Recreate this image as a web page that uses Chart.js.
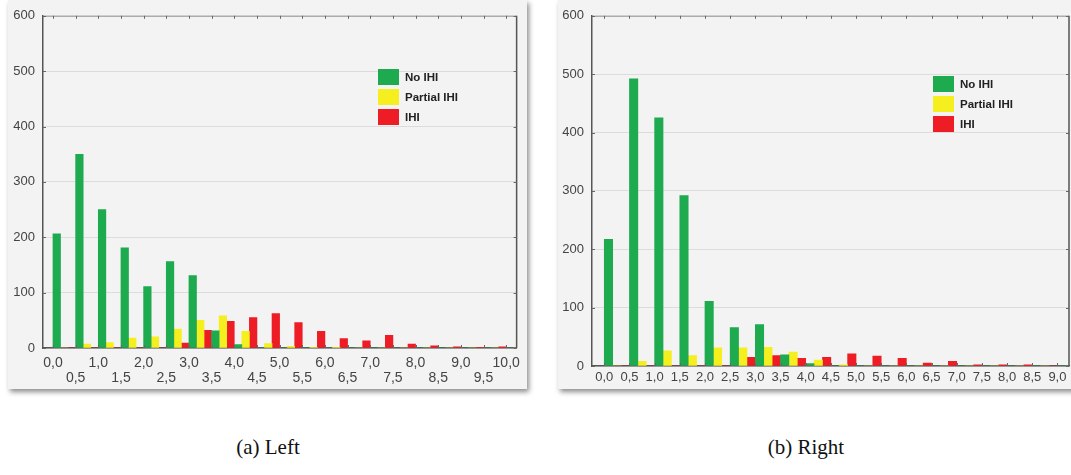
<!DOCTYPE html>
<html>
<head>
<meta charset="utf-8">
<script src="https://cdn.jsdelivr.net/npm/chart.js@4"></script>
<style>
body { margin: 0; width: 1071px; height: 475px; background: #fff; position: relative; overflow: hidden; font-family: "Liberation Sans", Arial, sans-serif; }
.panel { position: absolute; top: 0; height: 389px; background: #f3f3f3; box-shadow: 2px 3px 5px rgba(0, 0, 0, 0.45); }
#leftPanel { left: 8px; width: 519px; }
#rightPanel { left: 558px; width: 520px; }
.legend { position: absolute; font-weight: bold; font-size: 11.5px; color: #222; }
.legend .row { height: 20px; display: flex; align-items: center; }
.legend .box { width: 21px; height: 16px; margin-right: 6px; }
.caption { position: absolute; top: 435px; width: 200px; text-align: center; font-family: "Liberation Serif", serif; font-size: 21px; color: #111; }
</style>
</head>
<body>
<div class="panel" id="leftPanel"><canvas id="leftChart"></canvas><div class="legend" id="leftLegend" style="left:370px; top:67px"></div></div>
<div class="panel" id="rightPanel"><canvas id="rightChart"></canvas><div class="legend" id="rightLegend" style="left:375px; top:74px"></div></div>
<div class="caption" style="left:168px">(a) Left</div>
<div class="caption" style="left:706px">(b) Right</div>
<script>
const seriesNames = ['No IHI', 'Partial IHI', 'IHI'];
const seriesColors = ['#1eaa4f', '#f6ef1f', '#ee1c24'];

// left: bins 0,0 .. 10,0
const binsLeft = [0, 0.5, 1, 1.5, 2, 2.5, 3, 3.5, 4, 4.5, 5, 5.5, 6, 6.5, 7, 7.5, 8, 8.5, 9, 9.5, 10];
const noIhiLeft = [206, 350, 250, 181, 111, 156, 131, 31, 6, 0, 0, 0, 0, 0, 0, 0, 0, 0, 0, 0, 0];
const partialLeft = [0, 7, 10, 18, 20, 34, 50, 58, 30, 8, 3, 1, 1, 0, 0, 0, 0, 0, 0, 0, 0];
const ihiLeft = [0, 0, 0, 0, 0, 9, 32, 48, 55, 62, 46, 30, 17, 13, 23, 7, 4, 2, 1, 2, 0];

// right: bins 0,0 .. 9,0
const binsRight = [0, 0.5, 1, 1.5, 2, 2.5, 3, 3.5, 4, 4.5, 5, 5.5, 6, 6.5, 7, 7.5, 8, 8.5, 9];
const noIhiRight = [217, 492, 425, 292, 111, 66, 71, 19, 4, 0, 0, 0, 0, 0, 0, 0, 0, 0, 0];
const partialRight = [0, 8, 26, 18, 31, 31, 32, 24, 10, 2, 0, 0, 0, 0, 0, 0, 0, 0, 0];
const ihiRight = [0, 0, 0, 0, 0, 15, 18, 13, 15, 21, 17, 13, 5, 8, 2, 2, 2, 0, 0];

const yTicks = [0, 100, 200, 300, 400, 500, 600];

const fmt = v => v.toFixed(1).replace('.', ',');

// top and right edges of the plot box, plus small inward tick marks
const frame = {
    id: 'frame',
    afterDraw(chart) {
        const { ctx, chartArea: a, scales } = chart;
        ctx.save();
        ctx.strokeStyle = '#9a9a9a';
        ctx.lineWidth = 1;
        ctx.beginPath();
        ctx.moveTo(a.left, a.top + 0.5);
        ctx.lineTo(a.right, a.top + 0.5);
        ctx.stroke();
        ctx.strokeStyle = '#555';
        ctx.lineWidth = 1.5;
        ctx.beginPath();
        ctx.moveTo(a.right, a.top);
        ctx.lineTo(a.right, a.bottom);
        ctx.stroke();

        ctx.lineWidth = 1;
        ctx.strokeStyle = '#666';
        ctx.beginPath();
        scales.x.ticks.forEach(t => {
            const px = Math.round(scales.x.getPixelForValue(t.value)) + 0.5;
            if (px > a.right) return;
            ctx.moveTo(px, a.top); ctx.lineTo(px, a.top + 3);
            ctx.moveTo(px, a.bottom); ctx.lineTo(px, a.bottom - 3);
        });
        scales.y.ticks.forEach(t => {
            const py = Math.round(scales.y.getPixelForValue(t.value)) + 0.5;
            ctx.moveTo(a.left, py); ctx.lineTo(a.left + 3, py);
            ctx.moveTo(a.right, py); ctx.lineTo(a.right - 3, py);
        });
        ctx.stroke();
        ctx.restore();
    }
};

function makeChart(canvasId, bins, series, opts) {
    return new Chart(document.getElementById(canvasId), {
        type: 'bar',
        data: {
            datasets: series.map((vals, k) => ({
                label: seriesNames[k],
                data: bins.map((b, i) => ({ x: b + 0.25, y: vals[i] })),
                backgroundColor: seriesColors[k],
                borderWidth: 0,
                barPercentage: 1,
                categoryPercentage: 1
            }))
        },
        options: {
            responsive: true,
            maintainAspectRatio: false,
            animation: false,
            layout: { padding: { left: 0, right: opts.padRight, top: 15, bottom: 0 } },
            plugins: { legend: { display: false }, tooltip: { enabled: false } },
            scales: {
                x: {
                    type: 'linear',
                    offset: false,
                    min: opts.xMin,
                    max: opts.xMax,
                    afterBuildTicks: s => { s.ticks = bins.map(v => ({ value: v })); },
                    afterFit: s => { s.height = opts.xHeight; },
                    ticks: {
                        autoSkip: false,
                        maxRotation: 0,
                        padding: opts.xPad,
                        color: '#444',
                        font: { family: 'Liberation Sans', size: opts.xFont, lineHeight: 1.12 },
                        callback: (v, i) => (opts.twoRows && i % 2) ? ['', fmt(v)] : fmt(v)
                    },
                    grid: { display: false, drawTicks: false },
                    border: { color: '#555', width: 1.5 }
                },
                y: {
                    min: 0,
                    max: 600,
                    afterBuildTicks: s => { s.ticks = yTicks.map(v => ({ value: v })); },
                    afterFit: s => { s.width = opts.yWidth; },
                    ticks: { padding: 8, color: '#444', font: { family: 'Liberation Sans', size: 13 } },
                    grid: { color: '#dcdcdc', drawTicks: false },
                    border: { color: '#555', width: 1.5 }
                }
            }
        },
        plugins: [frame]
    });
}

function makeLegend(id) {
    const el = document.getElementById(id);
    seriesNames.forEach((name, k) => {
        el.insertAdjacentHTML('beforeend',
            `<div class="row"><span class="box" style="background:${seriesColors[k]}"></span>${name}</div>`);
    });
}

makeChart('leftChart', binsLeft, [noIhiLeft, partialLeft, ihiLeft],
    { xMin: -0.22, xMax: 10.23, padRight: 8, yWidth: 35, xHeight: 41, xPad: 7, xFont: 14, twoRows: true });
makeChart('rightChart', binsRight, [noIhiRight, partialRight, ihiRight],
    { xMin: -0.244, xMax: 9.23, padRight: 9, yWidth: 34, xHeight: 23, xPad: 4, xFont: 13, twoRows: false });

makeLegend('leftLegend');
makeLegend('rightLegend');
</script>
</body>
</html>
